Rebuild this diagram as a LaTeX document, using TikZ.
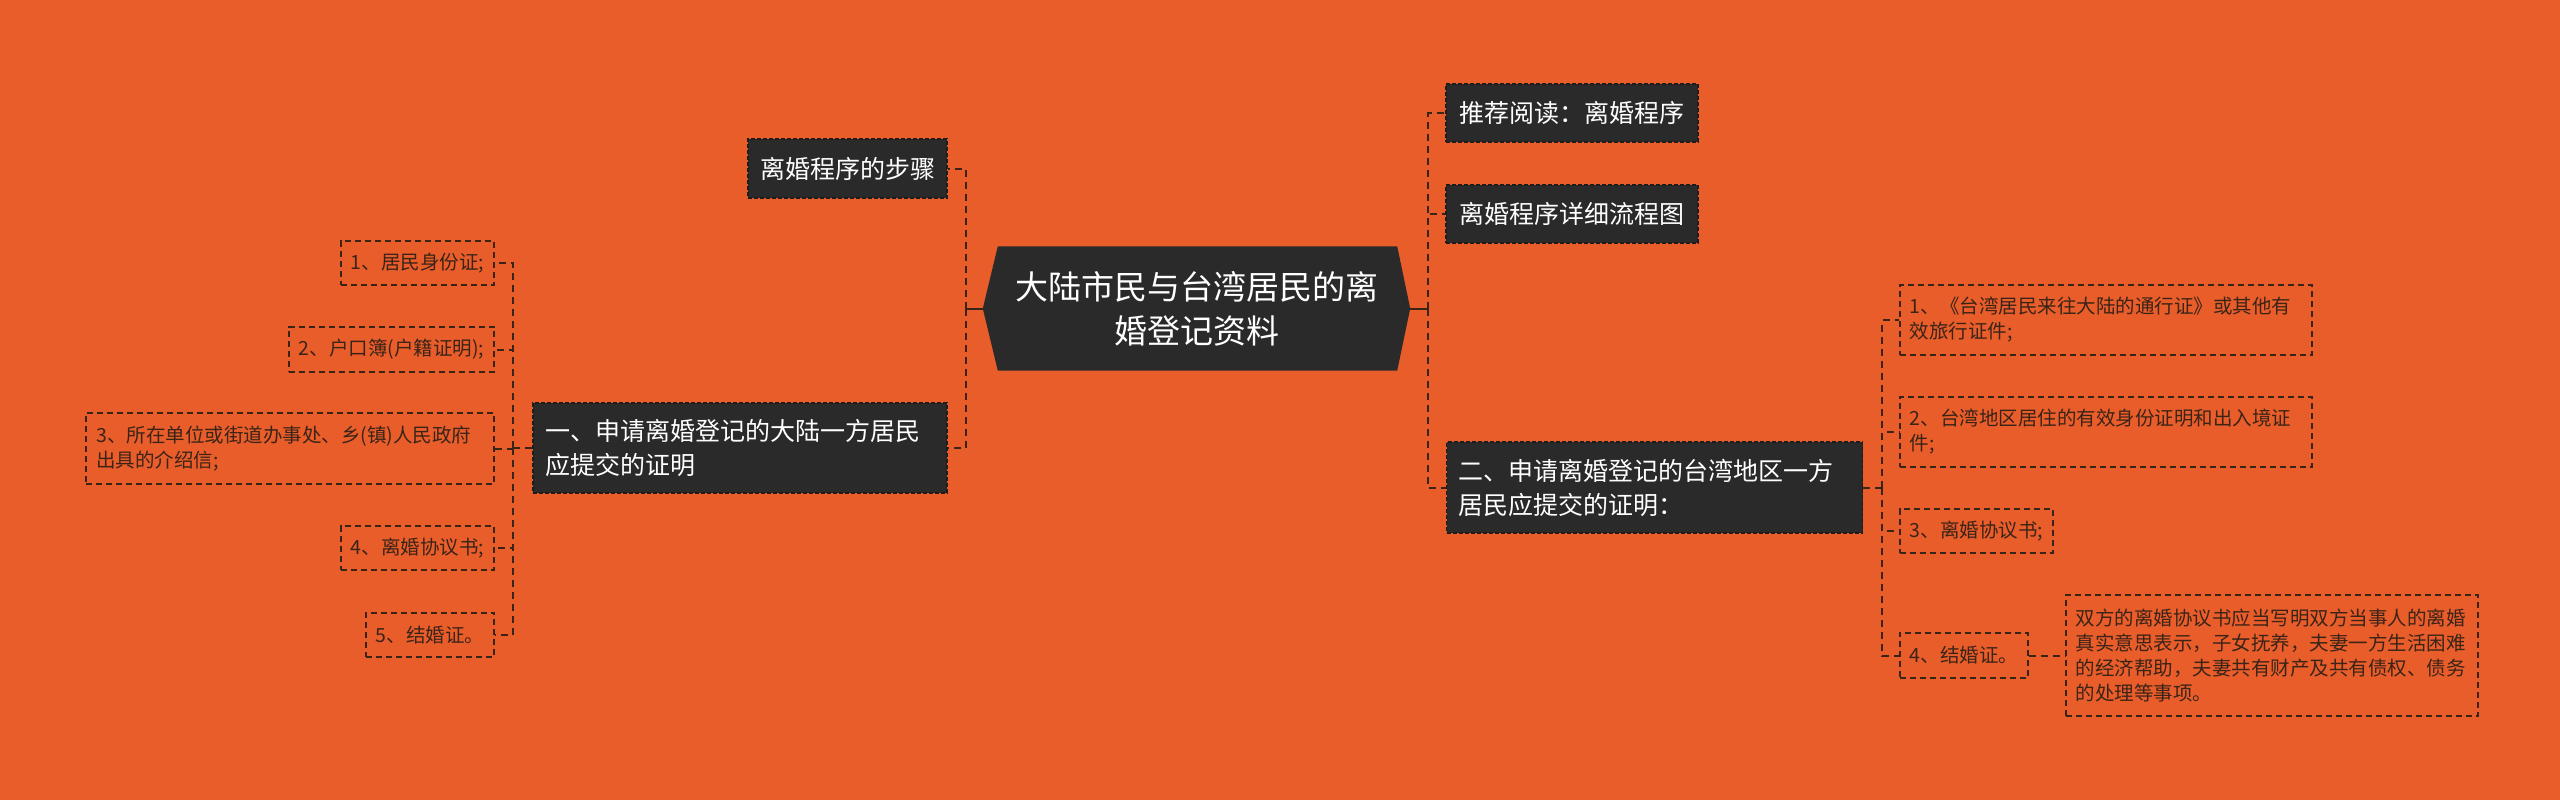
\documentclass[tikz,border=0pt]{standalone}
\usepackage{fontspec}
\usetikzlibrary{backgrounds,positioning}
\newfontfamily\cjk{Noto Sans CJK SC}
\definecolor{MapOrange}{HTML}{E95D2A}
\definecolor{MapDark}{HTML}{2A2A2A}
\definecolor{MapInk}{HTML}{3A2418}

\begin{document}
\begin{tikzpicture}[x=1pt,y=-1pt,font=\cjk]
\tikzset{
  root/.style={font=\cjk\fontsize{33}{44}\selectfont,text=white,align=center,minimum width=427pt,minimum height=124pt,inner sep=0pt},
  topic/.style={fill=MapDark,draw=MapDark!70!black,dash pattern=on 4pt off 2pt,line width=1.2pt,text=white,font=\cjk\fontsize{25}{34}\selectfont,align=left,inner xsep=12pt,inner ysep=0pt},
  item/.style={draw=MapInk,dash pattern=on 6pt off 4pt,line width=1.6pt,text=MapInk,font=\cjk\fontsize{19.5}{25}\selectfont,align=left,inner xsep=10pt,inner ysep=0pt},
  link/.style={draw=MapInk,dash pattern=on 7pt off 5pt,line width=2pt},
  stub/.style={draw=MapInk,line width=2pt}
}
\useasboundingbox (0,0) rectangle (2560,800);

% centre
\node[root] (main) at (1196.5,308.5) {大陆市民与台湾居民的离\\婚登记资料};

% left branch
\node[topic,minimum width=199pt,minimum height=59pt] (steps) at (847.5,168.5) {离婚程序的步骤};
\node[topic,text width=390pt,minimum height=90pt] (mainland) at (740,448) {一、申请离婚登记的大陆一方居民\\应提交的证明};

\node[item,anchor=east,minimum height=44pt] (a1) at (495,263) {1、居民身份证;};
\node[item,anchor=east,minimum height=45pt] (a2) at (495,349.5) {2、户口簿(户籍证明);};
\node[item,anchor=east,text width=388pt,minimum height=71pt] (a3) at (495,448.5) {3、所在单位或街道办事处、乡(镇)人民政府\\出具的介绍信;};
\node[item,anchor=east,minimum height=44pt] (a4) at (495,548) {4、离婚协议书;};
\node[item,anchor=east,minimum height=44pt] (a5) at (495,635) {5、结婚证。};

% right branch
\node[topic,minimum width=252pt,minimum height=58pt] (read) at (1572,113) {推荐阅读：离婚程序};
\node[topic,minimum width=252pt,minimum height=58pt] (chart) at (1572,214) {离婚程序详细流程图};
\node[topic,text width=392pt,minimum height=91pt] (taiwan) at (1654.5,487.5) {二、申请离婚登记的台湾地区一方\\居民应提交的证明：};

\node[item,anchor=west,text width=392pt,minimum height=70pt] (b1) at (1899,320) {1、《台湾居民来往大陆的通行证》或其他有\\效旅行证件;};
\node[item,anchor=west,text width=392pt,minimum height=70pt] (b2) at (1899,432) {2、台湾地区居住的有效身份证明和出入境证\\件;};
\node[item,anchor=west,minimum height=44pt] (b3) at (1899,531) {3、离婚协议书;};
\node[item,anchor=west,minimum height=45pt] (b4) at (1899,655.5) {4、结婚证。};
\node[item,anchor=west,text width=392pt,minimum height=121pt] (note) at (2065,655.5) {双方的离婚协议书应当写明双方当事人的离婚\\真实意思表示，子女抚养，夫妻一方生活困难\\的经济帮助，夫妻共有财产及共有债权、债务\\的处理等事项。};

% hubs
\coordinate (hubL) at ([xshift=-17pt]main.west);
\coordinate (hubR) at ([xshift=18pt]main.east);
\coordinate (hubA) at ([xshift=-19pt]mainland.west);
\coordinate (hubB) at ([xshift=19pt]taiwan.east);

\draw[stub] (main.west) -- (hubL);
\draw[link] (hubL) |- (steps.east);
\draw[link] (hubL) |- (mainland.east);
\draw[stub] (main.east) -- (hubR);
\foreach \n in {read,chart,taiwan} \draw[link] (hubR) |- (\n.west);

\draw[link] (mainland.west) -- (hubA);
\foreach \n in {a1,a2,a3,a4,a5} \draw[link] (hubA) |- (\n.east);
\draw[link] (taiwan.east) -- (hubB);
\foreach \n in {b1,b2,b3,b4} \draw[link] (hubB) |- (\n.west);
\draw[link] (b4.east) -- (note.west);

\begin{scope}[on background layer]
\fill[MapOrange] (0,0) rectangle (2560,800);
\fill[MapDark] (main.west) -- ([xshift=15pt]main.north west) -- ([xshift=-13pt]main.north east)
  -- (main.east) -- ([xshift=-13pt]main.south east) -- ([xshift=15pt]main.south west) -- cycle;
\end{scope}
\end{tikzpicture}
\end{document}
